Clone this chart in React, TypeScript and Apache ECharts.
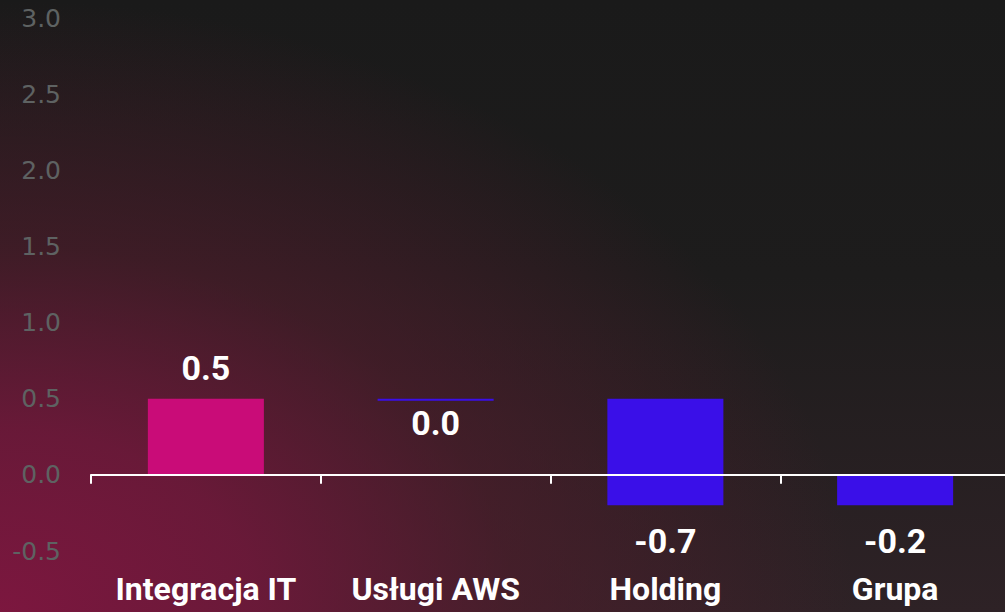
import React, { useEffect, useRef } from "react";
import * as echarts from "echarts";

const categories = ["Integracja IT", "Usługi AWS", "Holding", "Grupa"];
const changes = [0.5, 0.0, -0.7, -0.2];
const isTotal = [false, false, false, true];
const yTicks = { min: -0.5, max: 3.0, interval: 0.5 };

const PINK = "#c90c78";
const BLUE = "#3a0fe8";

function buildData() {
  let run = 0;
  return categories.map((_, i) => {
    let start: number;
    let end: number;
    if (isTotal[i]) {
      start = 0;
      end = Math.round(run * 10) / 10;
    } else {
      start = run;
      end = Math.round((run + changes[i]) * 10) / 10;
      run = end;
    }
    return [i, start, end, changes[i]];
  });
}

export default function App() {
  const ref = useRef<HTMLDivElement>(null);
  useEffect(() => {
    document.body.style.margin = "0";
    const chart = echarts.init(ref.current!, null, { renderer: "svg" });
    const data = buildData();
    chart.setOption({
      animation: false,
      backgroundColor: "transparent",
      grid: {
        left: 91,
        right: -5,
        top: 18,
        bottom: 61,
        containLabel: false,
        outerBoundsMode: "none",
      },
      xAxis: {
        type: "category",
        data: categories,
        z: 10,
        axisLine: { show: true, onZero: true, lineStyle: { color: "#ffffff", width: 2 } },
        axisTick: { show: true, interval: 0, length: 9, lineStyle: { color: "#ffffff", width: 2 } },
        axisLabel: {
          interval: 0,
          hideOverlap: false,
          color: "#ffffff",
          fontFamily: "Roboto",
          fontWeight: "bold",
          fontSize: 32,
          margin: 22,
        },
        splitLine: { show: false },
      },
      yAxis: {
        type: "value",
        min: yTicks.min,
        max: yTicks.max,
        interval: yTicks.interval,
        axisLine: { show: false },
        axisTick: { show: false },
        splitLine: { show: false },
        axisLabel: {
          color: "#5e6262",
          fontFamily: "DejaVu Sans",
          fontSize: 25,
          margin: 30,
          formatter: (v: number) => v.toFixed(1),
        },
      },
      series: [
        {
          type: "custom",
          data,
          encode: { x: 0, y: [1, 2] },
          z: 2,
          renderItem: (params: any, api: any) => {
            const i = api.value(0);
            const s = api.value(1);
            const e = api.value(2);
            const v = api.value(3);
            const top = api.coord([i, Math.max(s, e)]);
            const bot = api.coord([i, Math.min(s, e)]);
            const w = api.size([1, 0])[0] * 0.505;
            let h = bot[1] - top[1];
            if (h < 2) h = 2;
            const color = v > 0 ? PINK : BLUE;
            const ly = v > 0 ? top[1] - 31 : top[1] + h + (v === 0 ? 22 : 36);
            return {
              type: "group",
              children: [
                {
                  type: "rect",
                  shape: { x: top[0] - w / 2, y: top[1], width: w, height: h },
                  style: { fill: color },
                },
                {
                  type: "text",
                  x: top[0],
                  y: ly,
                  style: {
                    text: v.toFixed(1),
                    fill: "#ffffff",
                    fontFamily: "Roboto",
                    fontWeight: "bold",
                    fontSize: 34,
                    align: "center",
                    verticalAlign: "middle",
                  },
                },
              ],
            };
          },
        },
      ],
    });
    return () => chart.dispose();
  }, []);
  return (
    <div
      ref={ref}
      style={{
        width: 1005,
        height: 612,
        background:
          "radial-gradient(ellipse 85% 100% at 0% 100%, rgba(128,22,64,0.95) 0%, rgba(116,24,60,0.85) 30%, rgba(88,28,46,0.55) 60%, rgba(40,26,30,0) 100%), linear-gradient(to top, #2e2226 0%, #1d1c1c 55%, #1a1a1a 100%)",
      }}
    />
  );
}
